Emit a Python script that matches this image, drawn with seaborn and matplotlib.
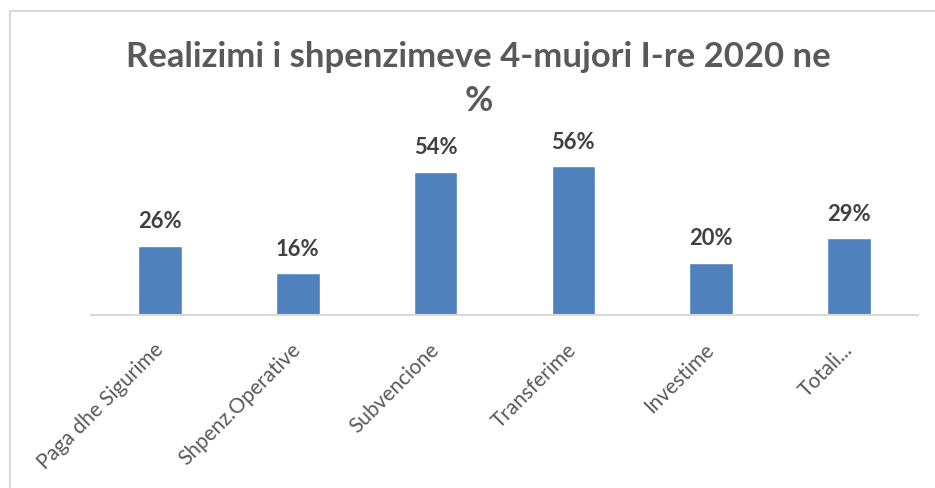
import matplotlib
matplotlib.use("Agg")
import matplotlib.pyplot as plt
import matplotlib.patches as mpatches
import seaborn as sns
import pandas as pd

# data
categories = ["Paga dhe Sigurime", "Shpenz.Operative", "Subvencione",
              "Transferime", "Investime", "Totali..."]
values = [26.0, 15.7, 54.0, 56.1, 19.7, 29.0]
title_line1 = "Realizimi i shpenzimeve 4-mujori I-re 2020 ne"
title_line2 = "%"

BAR_COLOR = "#4F81BD"
TEXT_DARK = "#404040"
TEXT_GRAY = "#595959"
GRID_GRAY = "#D9D9D9"

sns.set_theme(style="white")
plt.rcParams['font.family'] = ['Lato', 'DejaVu Sans']

W, H = 935, 488
fig = plt.figure(figsize=(W / 100, H / 100), dpi=100)
fig.patch.set_facecolor("white")

# axes placed in pixel terms
x0, x1 = 91, 918
y_base = 315
px_per_pct = 2.655
ymax = 60
y_top = y_base - ymax * px_per_pct
ax = fig.add_axes([x0 / W, 1 - y_base / H, (x1 - x0) / W, (y_base - y_top) / H])

df = pd.DataFrame({"cat": categories, "val": values})
sns.barplot(data=df, x="cat", y="val", color=BAR_COLOR, saturation=1,
            width=0.316, ax=ax)
ax.set_ylim(0, ymax)
ax.set_xlim(-0.5, len(categories) - 0.5)

# value labels
for i, v in enumerate(values):
    ax.annotate(f"{v:.0f}%", (i, v), xytext=(0, 12.6), textcoords="offset points",
                ha="center", va="baseline", fontsize=15.8, fontweight="bold",
                color=TEXT_DARK)

# axes styling
for s in ["top", "right", "left"]:
    ax.spines[s].set_visible(False)
ax.spines["bottom"].set_color(GRID_GRAY)
ax.spines["bottom"].set_linewidth(1.5)
ax.set_yticks([])
ax.set_xlabel("")
ax.set_ylabel("")
ax.tick_params(axis="x", length=0, pad=23)
ax.set_xticks(range(len(categories)))
ax.set_xticklabels(categories, rotation=45, ha="right", va="center",
                   rotation_mode="anchor", fontsize=15, color=TEXT_GRAY)

# title
cx = 478.5 / W
fig.text(cx, 1 - 67 / H, title_line1, ha="center", va="baseline",
         fontsize=24.9, fontweight="bold", color=TEXT_GRAY)
fig.text(cx, 1 - 111 / H, title_line2, ha="center", va="baseline",
         fontsize=24.9, fontweight="bold", color=TEXT_GRAY)

# chart border (goes off the right and bottom edge)
border = mpatches.Rectangle((10 / W, -0.1), 1.2, 1.1 - 11 / H,
                            transform=fig.transFigure, fill=False,
                            edgecolor=GRID_GRAY, linewidth=1.5, clip_on=False)
fig.patches.append(border)

fig.savefig("out.png", dpi=100)
